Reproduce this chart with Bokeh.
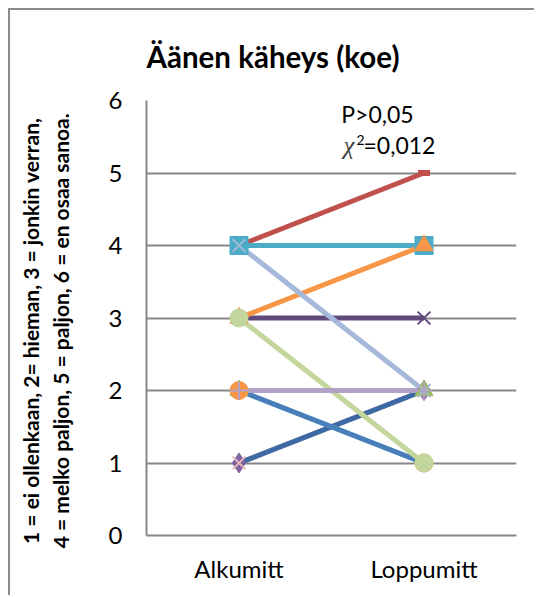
from bokeh.plotting import figure
from bokeh.models import Label, FixedTicker
from bokeh.embed import file_html
from bokeh.resources import INLINE

# Measurement points and answer scale
categories = ["Alkumitt", "Loppumitt"]
y_ticks = [0, 1, 2, 3, 4, 5, 6]

# One entry per respondent: answer at start and at end
alku = [1, 1, 1, 2, 2, 2, 4, 4, 3, 3, 4, 3, 2]
loppu = [2, 2, 2, 2, 1, 1, 5, 4, 3, 4, 2, 1, 2]

# Line colour, marker and marker colour for each respondent
line_colors = ["#8064A2", "#E6B9B8", "#3C6AA5", "#9BBB59", "#4BACC6", "#4A7EBB",
               "#C0504D", "#4BACC6", "#604A7B", "#F79646", "#A6B9DA", "#C3D69B", "#B3A2C7"]
markers = ["diamond", "x", None, "triangle", "asterisk", "circle",
           "dash", "square", "x", "triangle", "x", "circle", "cross"]
marker_colors = ["#8064A2", "#E6B9B8", "#3C6AA5", "#9BBB59", "#4BACC6", "#F79646",
                 "#C0504D", "#4BACC6", "#604A7B", "#F79646", "#A6B9DA", "#C3D69B", "#B3A2C7"]

FONT = "Lato"
GRID = "#878787"
NBSP = "\u00a0"

p = figure(
    x_range=categories, y_range=(0, 6),
    width=526, height=587,
    min_border_left=136, min_border_right=20, min_border_top=90, min_border_bottom=62,
    output_backend="svg", toolbar_location=None,
    title="Äänen käheys (koe)",
)
p.styles = {"margin-left": "8px", "margin-top": "8px",
            "border-left": "2px solid #8c8c8c", "border-top": "2px solid #8c8c8c"}
p.outline_line_color = None
p.background_fill_color = "white"
p.border_fill_color = "white"

p.title.text_font = FONT
p.title.text_font_size = "29.5px"
p.title.text_font_style = "bold"
p.title.text_color = "black"
p.title.align = "left"
p.title.offset = 0
p.title.vertical_align = "top"
p.title.standoff = 50

# Y axis
p.yaxis.ticker = FixedTicker(ticks=y_ticks)
p.yaxis.major_tick_line_color = None
p.yaxis.minor_tick_line_color = None
p.yaxis.major_tick_out = 0
p.yaxis.major_label_standoff = 24
p.yaxis.major_label_text_font = FONT
p.yaxis.major_label_text_font_size = "24px"
p.yaxis.major_label_text_color = "black"
p.yaxis.axis_line_color = GRID
p.yaxis.axis_line_width = 2
p.yaxis.axis_label = ("1 = ei ollenkaan, 2= hieman, 3 = jonkin verran," + NBSP * 5 + "\n"
                      "4 = melko paljon, 5 = paljon, 6 = en osaa sanoa." + NBSP * 5)
p.yaxis.axis_label_text_font = FONT
p.yaxis.axis_label_text_font_size = "21px"
p.yaxis.axis_label_text_font_style = "bold"
p.yaxis.axis_label_text_color = "black"
p.yaxis.axis_label_standoff = 33

# X axis
p.xaxis.major_tick_line_color = None
p.xaxis.minor_tick_line_color = None
p.xaxis.major_tick_out = 0
p.xaxis.major_label_standoff = 18
p.xaxis.major_label_text_font = FONT
p.xaxis.major_label_text_font_size = "24px"
p.xaxis.major_label_text_color = "black"
p.xaxis.axis_line_color = GRID
p.xaxis.axis_line_width = 2

p.xgrid.grid_line_color = None
p.ygrid.grid_line_color = GRID
p.ygrid.grid_line_width = 2

# Lines first, then markers on top
for a, b, c in zip(alku, loppu, line_colors):
    p.line(x=categories, y=[a, b], line_color=c, line_width=5)

for a, b, m, c in zip(alku, loppu, markers, marker_colors):
    if m is None:
        continue
    if m in ("x", "asterisk", "cross"):
        p.scatter(x=categories, y=[a, b], marker=m, size=18, line_color=c, line_width=2)
    elif m == "dash":
        p.scatter(x=categories, y=[a, b], marker=m, size=12, line_color=c, line_width=6)
    elif m == "diamond":
        p.scatter(x=categories, y=[a, b], marker=m, size=20, fill_color=c, line_color=c)
    else:
        p.scatter(x=categories, y=[a, b], marker=m, size=18, fill_color=c, line_color=c)

# Test result
p.add_layout(Label(x=1.0, y=5.62, x_offset=46, text="P>0,05", text_align="center",
                   text_font=FONT, text_font_size="23px", text_color="black"))
p.add_layout(Label(x=1.0, y=5.19, x_offset=12, text="χ", text_align="left",
                   text_font="Liberation Serif", text_font_style="italic",
                   text_font_size="25px", text_color="#404040"))
p.add_layout(Label(x=1.0, y=5.38, x_offset=25, text="2", text_align="left",
                   text_font=FONT, text_font_size="14px", text_color="black"))
p.add_layout(Label(x=1.0, y=5.19, x_offset=32, text="=0,012", text_align="left",
                   text_font=FONT, text_font_size="23px", text_color="black"))

open("out.html", "w").write(file_html(p, INLINE))
